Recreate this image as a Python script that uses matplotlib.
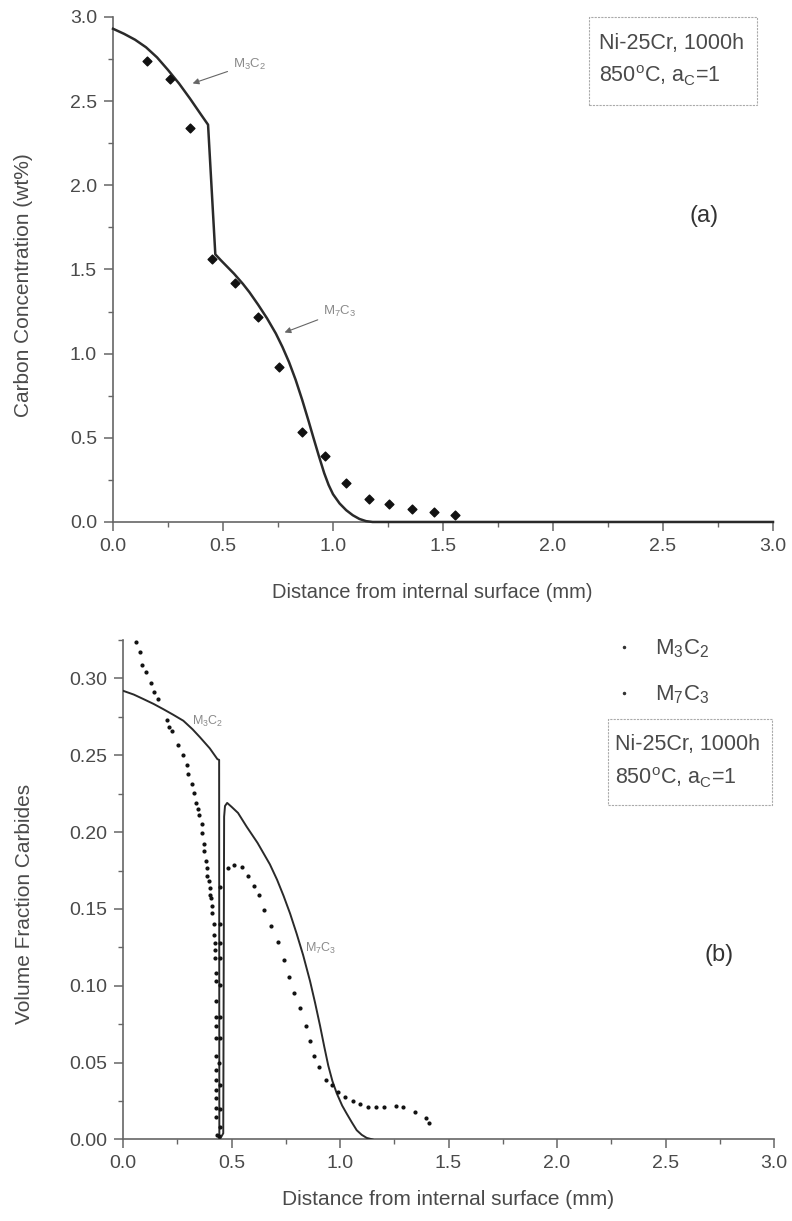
import matplotlib
matplotlib.use("Agg")
import matplotlib.pyplot as plt
from matplotlib.lines import Line2D
from matplotlib.patches import Rectangle
from matplotlib.ticker import MultipleLocator

plt.rcParams['font.family'] = ['Liberation Sans', 'DejaVu Sans']
plt.rcParams['mathtext.fontset'] = 'custom'
plt.rcParams['mathtext.rm'] = 'Liberation Sans'
plt.rcParams['mathtext.it'] = 'Liberation Sans'

# (a) carbon profile: model curve + measured points
conc_x = [0.0, 0.05, 0.10, 0.15, 0.20, 0.25, 0.30, 0.35, 0.40, 0.432,
          0.465, 0.49, 0.52, 0.55, 0.59, 0.62, 0.66, 0.70, 0.74, 0.77,
          0.80, 0.83, 0.86, 0.89, 0.91, 0.935, 0.96, 0.98, 1.00, 1.03,
          1.06, 1.09, 1.12, 1.15, 1.18, 3.0]
conc_y = [2.93, 2.90, 2.865, 2.82, 2.76, 2.685, 2.605, 2.515, 2.42, 2.36,
          1.59, 1.555, 1.515, 1.475, 1.415, 1.365, 1.29, 1.21, 1.12, 1.04,
          0.95, 0.845, 0.725, 0.595, 0.505, 0.395, 0.29, 0.22, 0.165, 0.11,
          0.07, 0.04, 0.018, 0.005, 0.0, 0.0]
meas_x = [0.153, 0.26, 0.35, 0.45, 0.555, 0.66, 0.756, 0.859, 0.964, 1.06,
          1.165, 1.255, 1.36, 1.46, 1.555]
meas_y = [2.74, 2.63, 2.34, 1.56, 1.42, 1.215, 0.92, 0.533, 0.393, 0.233,
          0.136, 0.106, 0.077, 0.057, 0.04]

# (b) volume fraction of carbides: solid = model, dots = second data set
m3c2_line_x = [0.0, 0.05, 0.094, 0.14, 0.186, 0.23, 0.278, 0.32, 0.355,
               0.40, 0.435, 0.443, 0.444]
m3c2_line_y = [0.292, 0.2895, 0.2866, 0.2835, 0.280, 0.2765, 0.2725, 0.267,
               0.2617, 0.2545, 0.2475, 0.247, 0.0]
m7c3_line_x = [0.446, 0.462, 0.466, 0.47, 0.48, 0.50, 0.53, 0.57, 0.62,
               0.677, 0.71, 0.74, 0.77, 0.80, 0.83, 0.862, 0.885, 0.908,
               0.928, 0.946, 0.965, 0.985, 1.01, 1.03, 1.055, 1.077, 1.10,
               1.123, 1.15]
m7c3_line_y = [0.0, 0.004, 0.21, 0.217, 0.219, 0.2165, 0.2125, 0.2035,
               0.193, 0.179, 0.169, 0.1585, 0.147, 0.134, 0.12, 0.103,
               0.089, 0.074, 0.060, 0.048, 0.038, 0.030, 0.022, 0.017,
               0.011, 0.006, 0.003, 0.001, 0.0]

m3c2_dot_x = [0.06, 0.078, 0.089, 0.104, 0.127, 0.143, 0.163, 0.201, 0.212,
              0.224, 0.255, 0.278, 0.296, 0.298, 0.319, 0.329, 0.336, 0.347,
              0.351, 0.362, 0.365, 0.373, 0.375, 0.382, 0.385, 0.388, 0.396,
              0.40, 0.40, 0.405, 0.411, 0.411, 0.419, 0.42, 0.424, 0.425,
              0.424, 0.427, 0.428, 0.428, 0.428, 0.427, 0.428, 0.428, 0.428,
              0.428, 0.428, 0.428, 0.428, 0.428, 0.431]
m3c2_dot_y = [0.3235, 0.317, 0.309, 0.304, 0.297, 0.2915, 0.2865, 0.273,
              0.2685, 0.2655, 0.2565, 0.2505, 0.244, 0.2376, 0.231, 0.2257,
              0.2187, 0.2148, 0.2109, 0.205, 0.1996, 0.192, 0.1876, 0.181,
              0.1768, 0.1713, 0.168, 0.1637, 0.1594, 0.157, 0.152, 0.1474,
              0.14, 0.133, 0.128, 0.1235, 0.118, 0.108, 0.103, 0.0898, 0.080,
              0.0735, 0.066, 0.054, 0.0453, 0.0388, 0.0323, 0.0269, 0.0203,
              0.0149, 0.003]
m7c3_dot_x = [0.444, 0.445, 0.445, 0.445, 0.444, 0.445, 0.445, 0.445, 0.446,
              0.446, 0.447, 0.448, 0.482, 0.513, 0.55, 0.578, 0.604, 0.628,
              0.651, 0.682, 0.716, 0.742, 0.765, 0.788, 0.814, 0.842, 0.86,
              0.88, 0.902, 0.935, 0.962, 0.989, 1.024, 1.058, 1.092, 1.127,
              1.168, 1.204, 1.258, 1.292, 1.346, 1.396, 1.411]
m7c3_dot_y = [0.002, 0.0083, 0.0197, 0.0355, 0.0497, 0.066, 0.08, 0.1007,
              0.118, 0.128, 0.14, 0.1645, 0.1768, 0.1785, 0.1775, 0.1713,
              0.165, 0.1588, 0.149, 0.1387, 0.1283, 0.117, 0.106, 0.0953,
              0.0855, 0.074, 0.0638, 0.054, 0.047, 0.039, 0.0353, 0.031,
              0.0277, 0.025, 0.023, 0.0208, 0.0208, 0.0208, 0.0217, 0.0208,
              0.018, 0.014, 0.0104]

AX = '#666666'
TXT = '#4a4a4a'
LINE = '#2a2a2a'
NOTE = '#8a8a8a'
INFO = 'Ni-25Cr, 1000h'
INFO2 = r'850$^\mathregular{o}$C, a$_\mathregular{C}$=1'

fig = plt.figure(figsize=(7.92, 12.21), dpi=100)
ax1 = fig.add_axes([0.1427, 0.5725, 0.8333, 0.4136])
ax2 = fig.add_axes([0.1553, 0.0668, 0.822, 0.409])


def style(ax, ymajor, yminor, yfmt):
    for s in ('top', 'right'):
        ax.spines[s].set_visible(False)
    for s in ('left', 'bottom'):
        ax.spines[s].set_color(AX)
        ax.spines[s].set_linewidth(1.2)
    ax.set_xlim(0, 3.0)
    ax.xaxis.set_major_locator(MultipleLocator(0.5))
    ax.xaxis.set_minor_locator(MultipleLocator(0.25))
    ax.yaxis.set_major_locator(MultipleLocator(ymajor))
    ax.yaxis.set_minor_locator(MultipleLocator(yminor))
    ax.yaxis.set_major_formatter(yfmt)
    ax.xaxis.set_major_formatter('{x:.1f}')
    ax.tick_params(which='major', direction='out', length=6.5, width=1.1,
                   color=AX, labelcolor=TXT, labelsize=14, pad=5)
    ax.tick_params(which='minor', direction='out', length=3.5, width=1.0,
                   color=AX)


def info_box(ax, x0, y0, x1, y1, tx, ty1, ty2):
    ax.add_patch(Rectangle((x0, y0), x1 - x0, y1 - y0, transform=ax.transAxes,
                           fc='white', ec='#aaaaaa', lw=0.8, ls=(0, (2, 1)),
                           clip_on=False, zorder=5))
    ax.text(tx, ty1, INFO, transform=ax.transAxes, fontsize=15.5, color=TXT,
            va='center', ha='left', zorder=6)
    ax.text(tx, ty2, INFO2, transform=ax.transAxes, fontsize=15.5, color=TXT,
            va='center', ha='left', zorder=6)


# ---- panel (a)
style(ax1, 0.5, 0.25, '{x:.1f}')
ax1.set_ylim(0, 3.0)
ax1.plot(conc_x, conc_y, color=LINE, lw=1.8, clip_on=False, zorder=3)
ax1.scatter(meas_x, meas_y, marker='D', s=20, color='#111111', zorder=4)
ax1.set_xlabel('Distance from internal surface (mm)', fontsize=14.5,
               color=TXT, va='center')
ax1.set_ylabel('Carbon Concentration (wt%)', fontsize=15, color=TXT,
               va='center')
ax1.xaxis.set_label_coords(0.483, -0.139)
ax1.yaxis.set_label_coords(-0.135, 0.469)

ax1.annotate(r'M$_\mathregular{3}$C$_\mathregular{2}$', xy=(0.35, 2.60),
             xytext=(0.545, 2.70), fontsize=9.5, color=NOTE,
             arrowprops=dict(arrowstyle='-|>', color='#666666', lw=0.8,
                             mutation_scale=9))
ax1.annotate(r'M$_\mathregular{7}$C$_\mathregular{3}$', xy=(0.768, 1.12),
             xytext=(0.955, 1.23), fontsize=9.5, color=NOTE,
             arrowprops=dict(arrowstyle='-|>', color='#666666', lw=0.8,
                             mutation_scale=9))

info_box(ax1, 0.721, 0.826, 0.976, 1.0, 0.736, 0.948, 0.883)
ax1.text(0.895, 0.605, '(a)', transform=ax1.transAxes, fontsize=17,
         color='#333333', ha='center', va='center')

# ---- panel (b)
style(ax2, 0.05, 0.025, '{x:.2f}')
ax2.set_ylim(0, 0.325)
ax2.plot(m3c2_line_x, m3c2_line_y, color=LINE, lw=1.4, zorder=3)
ax2.plot(m7c3_line_x, m7c3_line_y, color=LINE, lw=1.4, zorder=3)
ax2.scatter(m3c2_dot_x, m3c2_dot_y, s=4, color='#111111', zorder=4)
ax2.scatter(m7c3_dot_x, m7c3_dot_y, s=4, color='#111111', zorder=4)
ax2.set_xlabel('Distance from internal surface (mm)', fontsize=15,
               color=TXT, va='center')
ax2.set_ylabel('Volume Fraction Carbides', fontsize=15, color=TXT,
               va='center')
ax2.xaxis.set_label_coords(0.5, -0.121)
ax2.yaxis.set_label_coords(-0.152, 0.471)

ax2.text(0.318, 0.270, r'M$_\mathregular{3}$C$_\mathregular{2}$', fontsize=9,
         color=NOTE)
ax2.text(0.838, 0.122, r'M$_\mathregular{7}$C$_\mathregular{3}$', fontsize=9,
         color=NOTE)

handles = [Line2D([], [], ls='none', marker='.', ms=3, color='#333333'),
           Line2D([], [], ls='none', marker='.', ms=3, color='#333333')]
ax2.legend(handles, [r'M$_\mathregular{3}$C$_\mathregular{2}$',
                     r'M$_\mathregular{7}$C$_\mathregular{3}$'],
           loc='upper left', bbox_to_anchor=(0.718, 1.045), frameon=False,
           fontsize=16, labelcolor=TXT, handlelength=1.2, handletextpad=0.8,
           labelspacing=1.05)

info_box(ax2, 0.745, 0.670, 0.997, 0.842, 0.756, 0.79, 0.724)
ax2.text(0.915, 0.369, '(b)', transform=ax2.transAxes, fontsize=17,
         color='#333333', ha='center', va='center')

fig.savefig('out.png', dpi=100)
